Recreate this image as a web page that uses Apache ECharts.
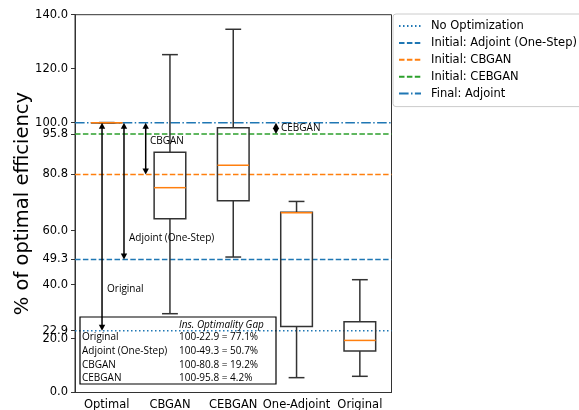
<!DOCTYPE html>
<html>
<head>
<meta charset="utf-8">
<script src="https://cdn.jsdelivr.net/npm/echarts@6/dist/echarts.min.js"></script>
<style>html,body{margin:0;padding:0;background:#fff}#c{width:579px;height:410px}</style>
</head>
<body>
<div id="c"></div>
<script>
// ---- data ----
const categories = ['Optimal', 'CBGAN', 'CEBGAN', 'One-Adjoint', 'Original'];
// [low whisker, Q1, median, Q3, high whisker]
const boxLow    = [100, 29.2, 50.2, 5.5, 6.0];
const boxQ1     = [100, 64.4, 71.1, 24.5, 15.4];
const boxMedian = [100, 75.9, 84.2, 66.6, 19.3];
const boxQ3     = [100, 89.0, 98.1, 66.8, 26.2];
const boxHigh   = [100, 125.2, 134.6, 70.8, 41.8];

const refNames  = ['No Optimization', 'Initial: Adjoint (One-Step)', 'Initial: CBGAN', 'Initial: CEBGAN', 'Final: Adjoint'];
const refValues = [22.9, 49.3, 80.8, 95.8, 100.0];

const yTicks = [0, 20, 22.9, 40, 49.3, 60, 80.8, 95.8, 100, 120, 140];

const arrowNames = ['Original', 'Adjoint (One-Step)', 'CBGAN', 'CEBGAN'];
const arrowX     = [-0.073, 0.274, 0.617, 2.675];
const arrowTop   = [100, 100, 100, 100];
const arrowBot   = [22.9, 49.3, 80.8, 95.8];
const arrowLabelX = [0.006, 0.353, 0.685, 2.754];
const arrowLabelY = [38.3, 57.2, 93.2, 97.9];

const tableNames  = ['Original', 'Adjoint (One-Step)', 'CBGAN', 'CEBGAN'];
const tableValues = [22.9, 49.3, 80.8, 95.8];

// ---- styles ----
const refColors = ['#1f77b4', '#1f77b4', '#ff7f0e', '#2ca02c', '#1f77b4'];
const refDash = [[1.5, 2.5], [5.5, 2.4], [5.5, 2.4], [5.5, 2.4], [9.6, 2.4, 1.5, 2.4]];

const chart = echarts.init(document.getElementById('c'), null, {renderer: 'canvas'});

const boxData = categories.map((c, i) => [i, boxLow[i], boxQ1[i], boxMedian[i], boxQ3[i], boxHigh[i]]);
const arrowData = arrowX.map((x, i) => [x, arrowTop[i], arrowBot[i], arrowLabelX[i], arrowLabelY[i]]);

const refSeries = refNames.map((n, i) => ({
  name: n, type: 'line', xAxisIndex: 1, yAxisIndex: 0,
  data: [[-0.5, refValues[i]], [4.5, refValues[i]]],
  symbol: 'none', silent: true, z: 2,
  lineStyle: {color: refColors[i], width: 1.5, type: refDash[i]},
  itemStyle: {color: refColors[i]}
}));

const tblFont = '10px "Open Sans"';
const graphic = [
  {type: 'rect', shape: {x: 80, y: 317, width: 196, height: 67}, style: {fill: 'none', stroke: '#000', lineWidth: 1.2}, z: 100},
  {type: 'text', x: 179, y: 325, style: {text: 'Ins. Optimality Gap', font: 'italic 10px "Open Sans"', fill: '#000', verticalAlign: 'middle'}, z: 100}
];
tableNames.forEach((n, i) => {
  const y = 337.5 + i * 13.6;
  graphic.push({type: 'text', x: 82, y: y, style: {text: n, font: tblFont, fill: '#000', verticalAlign: 'middle'}, z: 100});
  graphic.push({type: 'text', x: 179, y: y, style: {text: '100-' + tableValues[i].toFixed(1) + ' = ' + (100 - tableValues[i]).toFixed(1) + '%', font: tblFont, fill: '#000', verticalAlign: 'middle'}, z: 100});
});

const option = {
  animation: false,
  backgroundColor: '#fff',
  textStyle: {fontFamily: 'DejaVu Sans'},
  grid: {left: 75, top: 14.7, right: 187.5, bottom: 17.5, outerBoundsMode: 'none', containLabel: false,
         show: true, borderColor: '#333', borderWidth: 1, backgroundColor: 'transparent'},
  legend: {
    data: refNames, orient: 'vertical', left: 393, top: 14,
    padding: [6, 8, 7, 5], itemGap: 4.9, itemWidth: 22, itemHeight: 12,
    backgroundColor: '#fff', borderColor: '#ccc', borderWidth: 1, borderRadius: 3,
    itemStyle: {opacity: 0},
    textStyle: {fontFamily: 'DejaVu Sans', fontSize: 11.5, color: '#000', padding: [0, 0, 0, 5]}
  },
  xAxis: [
    {type: 'category', data: categories, gridIndex: 0,
     axisLine: {onZero: false, lineStyle: {color: '#333', width: 1}},
     axisTick: {alignWithLabel: true, length: 4, lineStyle: {color: '#333'}},
     axisLabel: {fontFamily: 'DejaVu Sans', fontSize: 11.5, color: '#000', margin: 7, interval: 0},
     splitLine: {show: false}},
    {type: 'value', min: -0.5, max: 4.5, show: false, gridIndex: 0, axisLine: {onZero: false}}
  ],
  yAxis: [{
    type: 'value', min: 0, max: 140,
    name: '% of optimal efficiency', nameLocation: 'middle', nameGap: 42, nameMoveOverlap: false,
    nameTextStyle: {fontFamily: 'DejaVu Sans', fontSize: 19.5, color: '#000'},
    axisLine: {show: true, onZero: false, lineStyle: {color: '#333', width: 1}},
    axisTick: {show: true, length: 4, customValues: yTicks, lineStyle: {color: '#333'}},
    axisLabel: {fontFamily: 'DejaVu Sans', fontSize: 11.5, color: '#000', margin: 7, customValues: yTicks, hideOverlap: false,
      formatter: v => Number(v).toFixed(1)},
    splitLine: {show: false}
  }],
  graphic: graphic,
  series: [
    ...refSeries,
    {
      type: 'custom', name: 'box', xAxisIndex: 0, yAxisIndex: 0, z: 5, silent: true,
      dimensions: ['x', 'lo', 'q1', 'med', 'q3', 'hi'],
      data: boxData,
      encode: {x: 0, y: [1, 2, 3, 4, 5]},
      renderItem: function (params, api) {
        const xi = api.value(0);
        const band = api.size([1, 0])[0];
        const bw = band * 0.5, cw = band * 0.25;
        const pLo = api.coord([xi, api.value(1)]);
        const pQ1 = api.coord([xi, api.value(2)]);
        const pMd = api.coord([xi, api.value(3)]);
        const pQ3 = api.coord([xi, api.value(4)]);
        const pHi = api.coord([xi, api.value(5)]);
        const cx = pLo[0];
        const st = {stroke: '#333', lineWidth: 1.5, fill: null};
        return {type: 'group', children: [
          {type: 'line', shape: {x1: cx, y1: pQ1[1], x2: cx, y2: pLo[1]}, style: st},
          {type: 'line', shape: {x1: cx, y1: pQ3[1], x2: cx, y2: pHi[1]}, style: st},
          {type: 'line', shape: {x1: cx - cw / 2, y1: pLo[1], x2: cx + cw / 2, y2: pLo[1]}, style: st},
          {type: 'line', shape: {x1: cx - cw / 2, y1: pHi[1], x2: cx + cw / 2, y2: pHi[1]}, style: st},
          {type: 'rect', shape: {x: cx - bw / 2, y: pQ3[1], width: bw, height: pQ1[1] - pQ3[1]}, style: {stroke: '#333', lineWidth: 1.5, fill: 'none'}},
          {type: 'line', shape: {x1: cx - bw / 2, y1: pMd[1], x2: cx + bw / 2, y2: pMd[1]}, style: {stroke: '#ff7f0e', lineWidth: 1.5}}
        ]};
      }
    },
    {
      type: 'custom', name: 'arrows', xAxisIndex: 1, yAxisIndex: 0, z: 6, silent: true,
      dimensions: ['x', 'top', 'bot', 'lx', 'ly'],
      data: arrowData,
      encode: {x: [0, 3], y: [1, 2, 4]},
      renderItem: function (params, api) {
        const pT = api.coord([api.value(0), api.value(1)]);
        const pB = api.coord([api.value(0), api.value(2)]);
        const pL = api.coord([api.value(3), api.value(4)]);
        const x = pT[0], hw = 3.2, hl = 6;
        return {type: 'group', children: [
          {type: 'line', shape: {x1: x, y1: pT[1] + hl - 1, x2: x, y2: pB[1] - hl + 1}, style: {stroke: '#000', lineWidth: 1.5}},
          {type: 'polygon', shape: {points: [[x, pT[1]], [x - hw, pT[1] + hl], [x + hw, pT[1] + hl]]}, style: {fill: '#000'}},
          {type: 'polygon', shape: {points: [[x, pB[1]], [x - hw, pB[1] - hl], [x + hw, pB[1] - hl]]}, style: {fill: '#000'}},
          {type: 'text', x: pL[0], y: pL[1], style: {text: arrowNames[params.dataIndex], font: '10px "Open Sans"', fill: '#000', verticalAlign: 'middle', align: 'left'}}
        ]};
      }
    }
  ]
};
chart.setOption(option);
</script>
</body>
</html>
